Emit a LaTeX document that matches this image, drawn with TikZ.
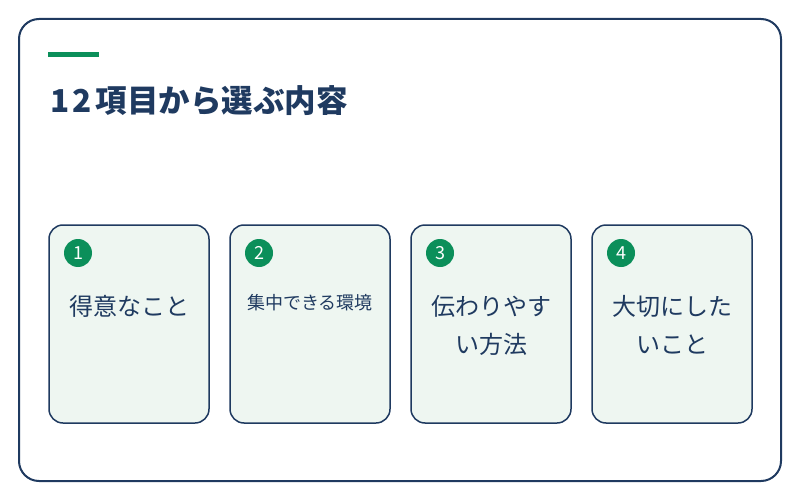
\documentclass[tikz,border=0pt]{standalone}
\usepackage{fontspec}
\setmainfont{Noto Sans CJK JP}
\newfontfamily\cjk{Noto Sans CJK JP}
\definecolor{navy}{HTML}{1F3A60}
\definecolor{accent}{HTML}{0B8F5A}
\definecolor{cardfill}{HTML}{EEF6F1}
\tikzset{
  frame/.style={draw=navy, line width=2pt, rounded corners=20pt, fill=white},
  card/.style={draw=navy, line width=1.5pt, rounded corners=14pt, fill=cardfill},
  badge/.style={circle, fill=accent, minimum size=28pt, inner sep=0pt, text=white, font=\cjk\fontsize{18}{18}\selectfont},
  big/.style={text=navy, font=\cjk\fontsize{24}{38}\selectfont, align=center, inner sep=0pt},
  small/.style={text=navy, font=\cjk\fontsize{18}{20}\selectfont, align=center, inner sep=0pt},
  ttl/.style={text=navy, font=\cjk\bfseries\fontsize{31.5}{32}\selectfont, anchor=west, inner sep=0pt}
}
\begin{document}
\begin{tikzpicture}[x=1pt,y=-1pt]
\useasboundingbox (0,0) rectangle (800,500);
\draw[frame] (19,19) rectangle (781,481);
\fill[accent] (48,52.5) rectangle (99,57);
\node[ttl] (title) at (50,101) {1\kern3pt2\kern4pt項目から選ぶ内容};
\foreach \i/\x in {1/49,2/230,3/411,4/592}{
  \draw[card] (\x,225) rectangle ++(160,198);
  \node[badge] (b\i) at (\x+29,253) {\i};
}
\node[big, anchor=north] (t1) at (129,295) {得意なこと};
\node[small] (t2) at (310,303) {集中できる環境};
\node[big, anchor=north] (t3) at (491,295) {伝わりやす\\い方法};
\node[big, anchor=north] (t4) at (672,295) {大切にした\\いこと};
\end{tikzpicture}
\end{document}
